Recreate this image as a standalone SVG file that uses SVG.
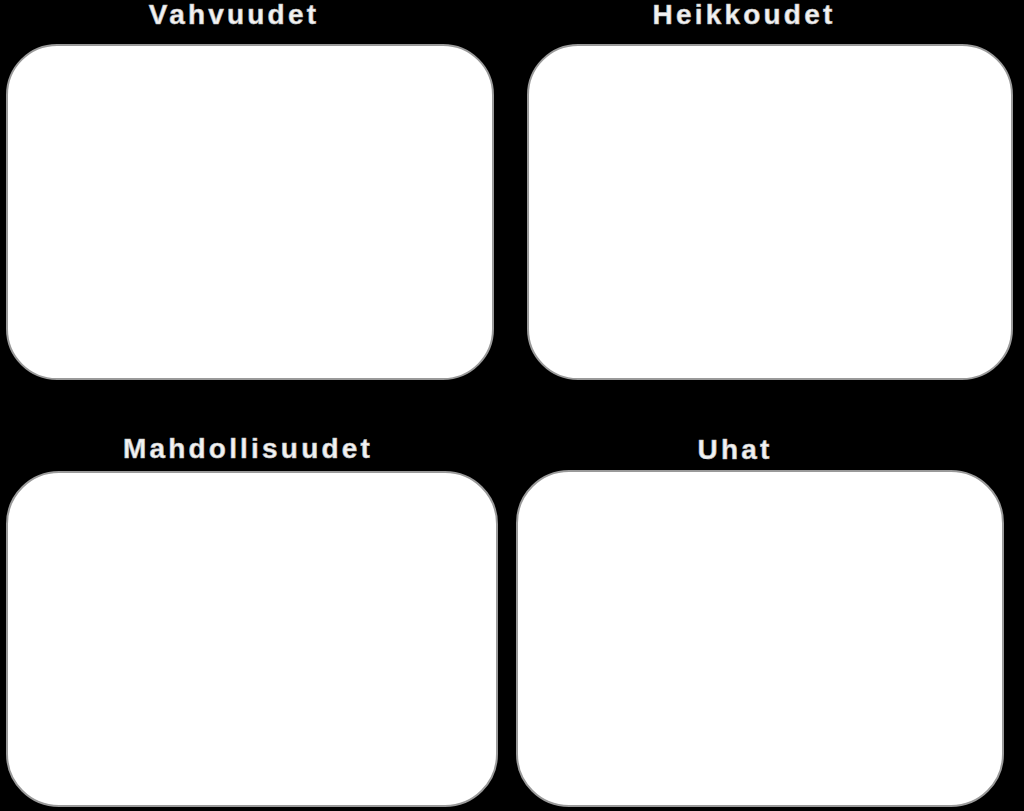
<svg xmlns="http://www.w3.org/2000/svg" width="1024" height="811" viewBox="0 0 1024 811">
<style>
.box{fill:#ffffff;stroke:#9a9a9a;stroke-width:2}
.lbl{fill:#f2f2f2;font-family:"Liberation Sans",Arial,sans-serif;font-weight:bold;font-size:28px;letter-spacing:3.2px;text-anchor:middle;stroke:#bdbdbd;stroke-width:0.6px}
</style>
<rect x="0" y="0" width="1024" height="811" fill="#000000"/>
<g id="vahvuudet">
<text class="lbl" x="234" y="24">Vahvuudet</text>
<rect class="box" x="7" y="45" width="486" height="334" rx="50" ry="50"/>
</g>
<g id="heikkoudet">
<text class="lbl" x="744" y="24">Heikkoudet</text>
<rect class="box" x="528" y="45" width="484" height="334" rx="50" ry="50"/>
</g>
<g id="mahdollisuudet">
<text class="lbl" x="248" y="458">Mahdollisuudet</text>
<rect class="box" x="7" y="472" width="490" height="334" rx="52" ry="52"/>
</g>
<g id="uhat">
<text class="lbl" x="735" y="459">Uhat</text>
<rect class="box" x="517" y="471" width="486" height="335" rx="52" ry="52"/>
</g>
<g id="connectors"></g>
</svg>
